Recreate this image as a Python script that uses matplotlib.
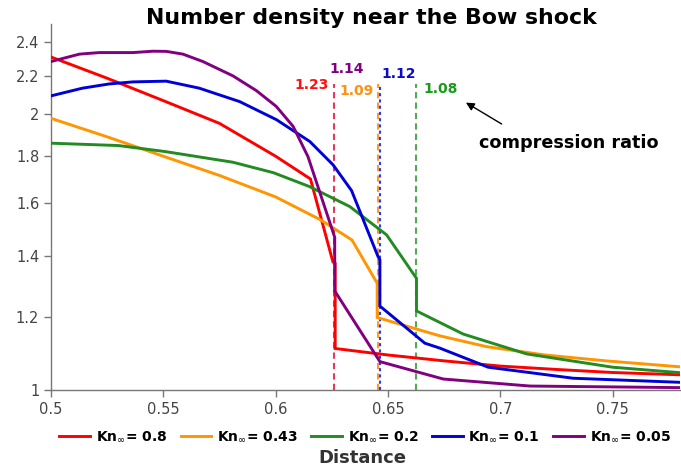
#!/usr/bin/env python3
"""Number density profiles near the bow shock for several Knudsen numbers."""

import matplotlib

matplotlib.use("Agg")

import matplotlib.pyplot as plt
from matplotlib.ticker import FixedLocator, FixedFormatter, NullLocator

# --- data --------------------------------------------------------------------
kn_labels = ["0.8", "0.43", "0.2", "0.1", "0.05"]

red_x = [0.5, 0.525, 0.55, 0.575, 0.6, 0.6155, 0.6255, 0.6265, 0.6265,
         0.65, 0.675, 0.7, 0.725, 0.75, 0.78]
red_y = [2.31, 2.19, 2.07, 1.955, 1.80, 1.70, 1.38, 1.375, 1.11,
         1.092, 1.076, 1.062, 1.053, 1.045, 1.039]

orange_x = [0.5, 0.525, 0.55, 0.575, 0.6, 0.62, 0.634, 0.6452, 0.6452,
            0.673, 0.694, 0.72, 0.747, 0.78]
orange_y = [1.98, 1.89, 1.80, 1.715, 1.625, 1.534, 1.458, 1.308, 1.20,
            1.146, 1.115, 1.092, 1.076, 1.060]

green_x = [0.5, 0.53, 0.551, 0.581, 0.599, 0.615, 0.633, 0.6494, 0.6627,
           0.6627, 0.6835, 0.7117, 0.75, 0.78]
green_y = [1.86, 1.849, 1.821, 1.773, 1.727, 1.668, 1.586, 1.477, 1.324,
           1.22, 1.151, 1.095, 1.059, 1.0445]

blue_x = [0.5, 0.514, 0.526, 0.5365, 0.5513, 0.566, 0.584, 0.6004, 0.6152,
          0.6256, 0.6338, 0.6455, 0.6464, 0.6464, 0.6664, 0.6731, 0.6946,
          0.7325, 0.78]
blue_y = [2.095, 2.136, 2.159, 2.17, 2.174, 2.136, 2.065, 1.973, 1.868,
          1.761, 1.651, 1.40, 1.387, 1.235, 1.125, 1.111, 1.059,
          1.030, 1.0195]

purple_x = [0.5, 0.5127, 0.5216, 0.5365, 0.5454, 0.5513, 0.5587, 0.5676,
            0.581, 0.5914, 0.6003, 0.6078, 0.6144, 0.6263, 0.6263, 0.6464,
            0.6746, 0.7132, 0.78]
purple_y = [2.284, 2.327, 2.336, 2.336, 2.344, 2.343, 2.327, 2.284,
            2.203, 2.123, 2.04, 1.94, 1.798, 1.468, 1.283, 1.074,
            1.028, 1.010, 1.006]

# shock positions and compression ratios
shock_x = [0.626, 0.6455, 0.6627, 0.6464]
ratio_text = ["1.23", "1.09", "1.08", "1.12", "1.14"]
ratio_x = [0.6162, 0.6359, 0.6736, 0.6549, 0.6315]
ratio_y = [2.154, 2.123, 2.133, 2.214, 2.242]

y_ticks = [1, 1.2, 1.4, 1.6, 1.8, 2, 2.2, 2.4]
y_tick_labels = ["1", "1.2", "1.4", "1.6", "1.8", "2", "2.2", "2.4"]
x_ticks = [0.5, 0.55, 0.6, 0.65, 0.7, 0.75]
x_tick_labels = ["0.5", "0.55", "0.6", "0.65", "0.7", "0.75"]

LINE_COLORS = ["#ff0000", "#ff9500", "#228b22", "#0000d8", "#800080"]
SHOCK_COLORS = ["#e8365d", "#ff9a2e", "#55a955", "#2a3cf0"]
SHOCK_STYLES = [(0, (3, 2)), (0, (3, 2)), (0, (3, 2)), (0, (1.5, 1.5))]
TEXT_COLORS = ["#ff1010", "#ff9010", "#1a9a1a", "#0a0acc", "#800080"]


def main() -> None:
    fig = plt.figure(figsize=(6.81, 4.68), dpi=100, facecolor="white")
    ax = fig.add_axes([51 / 681, 78 / 468, 629 / 681, 366 / 468])

    series = [
        (red_x, red_y),
        (orange_x, orange_y),
        (green_x, green_y),
        (blue_x, blue_y),
        (purple_x, purple_y),
    ]

    # dashed shock markers behind the curves
    for sx, col, ls in zip(shock_x, SHOCK_COLORS, SHOCK_STYLES):
        ax.vlines(sx, 1.0, 2.16, colors=col, linestyles=[ls], linewidth=1.5, zorder=1)

    handles = []
    for (xs, ys), col, lab in zip(series, LINE_COLORS, kn_labels):
        (h,) = ax.plot(xs, ys, color=col, linewidth=2.1, zorder=3,
                       label=r"Kn$_\infty$= " + lab, solid_joinstyle="miter")
        handles.append(h)

    for txt, tx, ty, col in zip(ratio_text, ratio_x, ratio_y, TEXT_COLORS):
        ax.text(tx, ty, txt, color=col, fontsize=10, fontweight="bold",
                ha="center", va="center", zorder=4)

    ax.annotate(
        "",
        xy=(0.6847, 2.06),
        xytext=(0.7006, 1.952),
        arrowprops=dict(arrowstyle="-|>", color="black", linewidth=1.0,
                        mutation_scale=12, shrinkA=0, shrinkB=0),
    )
    ax.text(0.7306, 1.863, "compression ratio", fontsize=12.7, fontweight="bold",
            ha="center", va="center", color="black")

    ax.set_yscale("log")
    ax.set_xlim(0.5, 0.78)
    ax.set_ylim(1.0, 2.51)
    ax.yaxis.set_major_locator(FixedLocator(y_ticks))
    ax.yaxis.set_major_formatter(FixedFormatter(y_tick_labels))
    ax.yaxis.set_minor_locator(NullLocator())
    ax.set_xticks(x_ticks)
    ax.set_xticklabels(x_tick_labels)
    ax.tick_params(axis="both", labelsize=10.5, labelcolor="#444444",
                   color="#777777", length=5, width=1)

    for side in ("top", "right"):
        ax.spines[side].set_visible(False)
    for side in ("left", "bottom"):
        ax.spines[side].set_color("#777777")
        ax.spines[side].set_linewidth(1.0)

    fig.text(371 / 681, 1 - 18 / 468, "Number density near the Bow shock",
             fontsize=15.8, fontweight="bold", ha="center", va="center")

    fig.legend(
        handles=handles,
        loc="center",
        bbox_to_anchor=(365 / 681, 1 - 437 / 468),
        ncol=5,
        frameon=False,
        handlelength=2.2,
        handletextpad=0.4,
        columnspacing=1.0,
        prop={"weight": "bold", "size": 10},
    )
    fig.text(362 / 681, 1 - 458 / 468, "Distance", fontsize=13, fontweight="bold",
             color="#333333", ha="center", va="center")

    fig.savefig("out.png", dpi=100, facecolor="white")
    plt.close(fig)


if __name__ == "__main__":
    main()
